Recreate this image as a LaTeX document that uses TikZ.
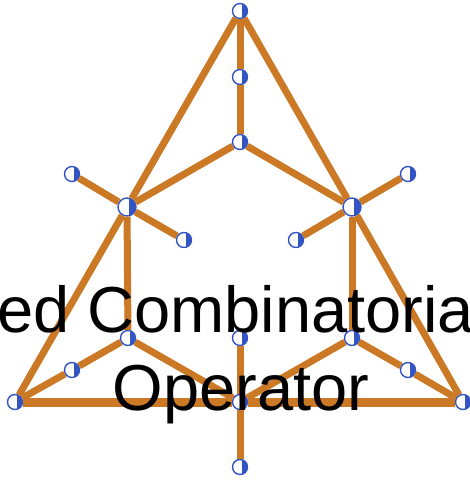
\documentclass[tikz,border=0pt]{standalone}
\usepackage{fontspec}
\setmainfont{Liberation Sans}
\usepackage{tikz}
\usetikzlibrary{calc}
\definecolor{edgeorange}{RGB}{204,121,38}
\definecolor{vtxblue}{RGB}{52,84,196}
\tikzset{
	vtx/.style={circle, draw=vtxblue, fill=white, line width=1.4pt, inner sep=0pt, minimum size=#1,
		path picture={\fill[vtxblue] ([xshift=1.5pt]path picture bounding box.north) rectangle (path picture bounding box.south east);}},
	vtx/.default=15pt,
	edge/.style={draw=edgeorange, line width=7pt},
	lbl/.style={anchor=base, font=\fontsize{65}{78}\selectfont}
}

\begin{document}
\begin{tikzpicture}[x=1pt, y=-1pt]
			%%%%% START %%%%%
			\useasboundingbox (0, 0) rectangle (470, 482);
			\clip (0, 0) rectangle (470, 482);
			
			\node[vtx] (top) at (240, 11) {};
			\node[vtx] (topmid) at (240, 77) {};
			\node[vtx] (hub) at (240, 142) {};
			
			\node[vtx=18pt] (left) at (127, 207) {};
			\node[vtx] (leftout) at (72, 174) {};
			\node[vtx] (leftin) at (184, 240) {};
			\node[vtx=18pt] (right) at (352, 207) {};
			\node[vtx] (rightout) at (408, 174) {};
			\node[vtx] (rightin) at (296, 240) {};
			
			\node[vtx] (leftlow) at (128, 338) {};
			\node[vtx] (leftcorner) at (72, 370) {};
			\node[vtx] (midlow) at (240, 338) {};
			\node[vtx] (rightlow) at (352, 338) {};
			\node[vtx] (rightcorner) at (408, 370) {};
			
			\node[vtx] (bl) at (15, 402) {};
			\node[vtx] (bmid) at (240, 402) {};
			\node[vtx] (br) at (463, 402) {};
			\node[vtx] (bottom) at (240, 467) {};
			
			% outer triangle
			\draw[edge] (top) -- (left) -- (bl);
			\draw[edge] (top) -- (right) -- (br);
			\draw[edge, line width=9pt] (bl) -- (bmid) -- (br);
			
			% spine and arms
			\draw[edge] (top) -- (topmid) -- (hub);
			\draw[edge] (hub) -- (left);
			\draw[edge] (hub) -- (right);
			\draw[edge] (left) -- (leftout);
			\draw[edge] (left) -- (leftin);
			\draw[edge] (right) -- (rightout);
			\draw[edge] (right) -- (rightin);
			
			% lower part
			\draw[edge] (left) -- (leftlow);
			\draw[edge] (right) -- (rightlow);
			\draw[edge] (leftlow) -- (leftcorner) -- (bl);
			\draw[edge] (rightlow) -- (rightcorner) -- (br);
			\draw[edge] (leftlow) -- (bmid);
			\draw[edge] (rightlow) -- (bmid);
			\draw[edge] (midlow) -- (bmid) -- (bottom);
			
			\node[lbl] (lbltop) at (243, 332) {ed Combinatorial};
			\node[lbl] (lblbot) at (241, 410) {Operator};
			%%%%% END %%%%%
\end{tikzpicture}
\end{document}
